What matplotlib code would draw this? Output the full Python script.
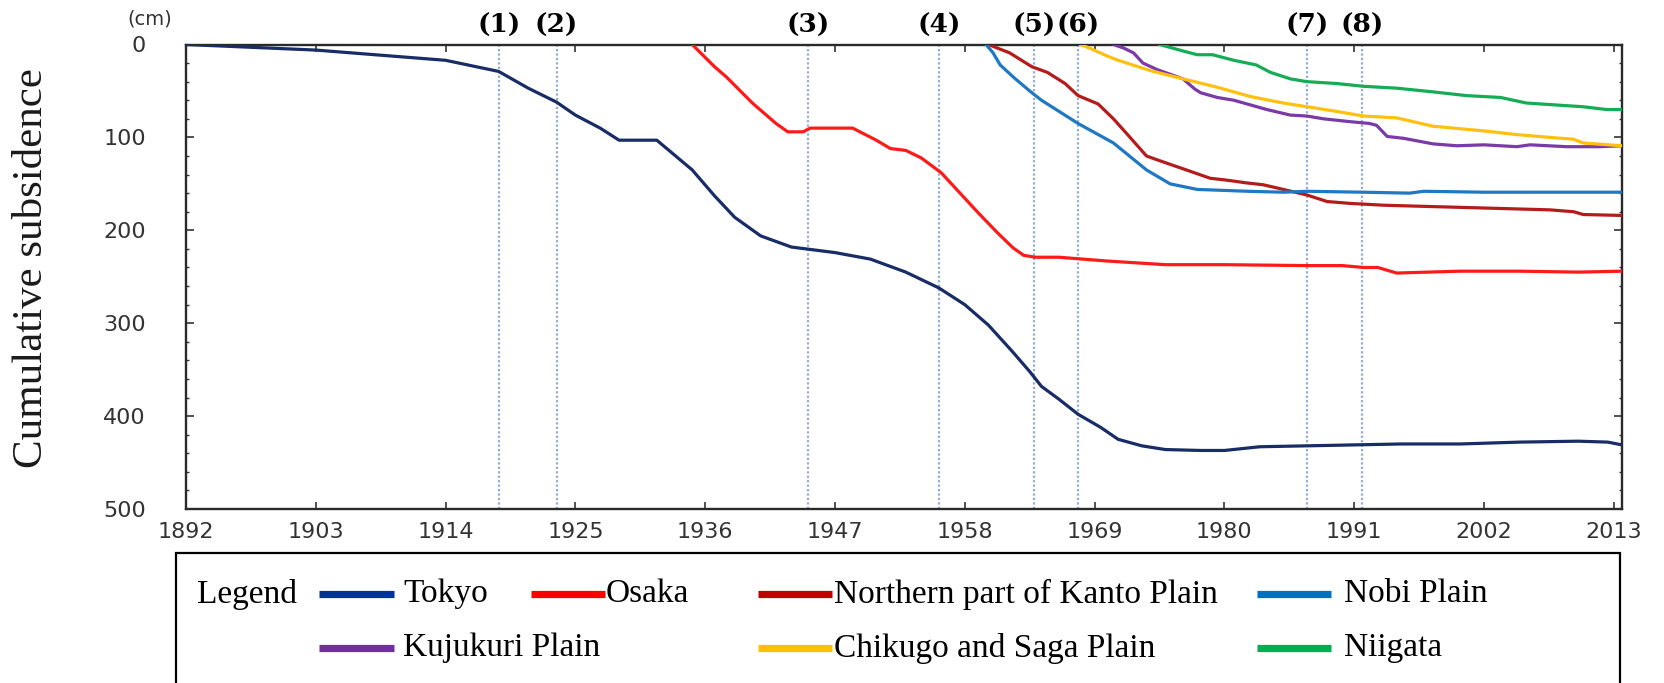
import matplotlib
matplotlib.use("Agg")
import matplotlib.pyplot as plt
from matplotlib.lines import Line2D
from matplotlib.patches import Rectangle
from matplotlib.ticker import MultipleLocator

# ---------------- data ----------------
tokyo_years = [1892, 1903, 1914, 1918.5, 1921, 1923.4, 1925, 1927.1, 1928.7, 1931.9, 1934.9, 1936.8,
               1938.5, 1940.7, 1943.3, 1947, 1950, 1953, 1955.8, 1958, 1960, 1962, 1963.5, 1964.5,
               1966, 1967.6, 1969.5, 1971, 1973, 1975, 1978, 1980, 1983, 1987, 1991, 1995, 2000,
               2005, 2010, 2012.5, 2013.7]
tokyo_vals = [0, 6, 17, 29, 47, 62, 76, 90, 103, 103, 135, 163,
              186, 206, 218, 224, 231, 245, 262, 280, 302, 330, 352, 368,
              382, 398, 412, 425, 432, 436, 437, 437, 433, 432, 431, 430, 430,
              428, 427, 428, 431]

osaka_years = [1934.9, 1936.8, 1937.8, 1940, 1942, 1943, 1944.3, 1944.9, 1948.5, 1950.5, 1951.7,
               1953, 1954.3, 1956, 1957.6, 1959.2, 1960.8, 1962.1, 1963, 1964, 1966, 1970, 1975,
               1980, 1987, 1990, 1991.8, 1993, 1994.6, 2000, 2005, 2010, 2013.7]
osaka_vals = [0, 24, 35, 63, 85, 94, 94, 90, 90, 103, 112,
              114, 122, 138, 160, 182, 203, 219, 227, 229, 229, 233, 237,
              237, 238, 238, 240, 240, 246, 244, 244, 245, 244]

kanto_years = [1960, 1961.8, 1963.7, 1965, 1966.5, 1967.6, 1969.3, 1970.6, 1971.8, 1973.4, 1974.5,
               1977, 1978.8, 1980.2, 1981.9, 1983.3, 1985, 1987, 1988.7, 1990.6, 1993.5, 1996.3,
               2002, 2007.6, 2009.6, 2010.4, 2013.7]
kanto_vals = [0, 9, 24, 30, 42, 55, 64, 80, 97, 120, 125,
              136, 144, 146, 149, 151, 156, 162, 169, 171, 173, 174,
              176, 178, 180, 183, 184]

nobi_years = [1959.8, 1960.4, 1961, 1962.2, 1963.5, 1964.5, 1967.6, 1970.6, 1973.4, 1975.4, 1977.7,
              1982, 1985, 1987, 1991.8, 1995.7, 1996.9, 2002, 2007.6, 2013.7]
nobi_vals = [0, 9, 22, 36, 50, 60, 85, 106, 135, 150, 156,
             158, 159, 158, 159, 160, 158, 159, 159, 159]

kujukuri_years = [1970.6, 1971.5, 1972.3, 1973.1, 1974.3, 1976.5, 1977.5, 1978, 1979.4, 1980.8,
                  1982.2, 1983.6, 1985.6, 1987, 1988.4, 1990.6, 1992.3, 1992.9, 1993.8, 1995.2,
                  1997.7, 1999.7, 2002, 2004.8, 2005.9, 2009, 2011.8, 2013.7]
kujukuri_vals = [0, 4, 9, 20, 27, 37, 48, 52, 57, 60,
                 65, 70, 76, 77, 80, 83, 85, 87, 99, 101,
                 107, 109, 108, 110, 108, 110, 110, 109]

chikugo_years = [1967.8, 1968.6, 1970, 1971, 1973.7, 1976.5, 1979.4, 1982.2, 1985, 1987, 1989.5,
                 1991.8, 1994.6, 1997.7, 2002, 2004.8, 2007.6, 2009.6, 2010.4, 2013.7]
chikugo_vals = [0, 4, 12, 17, 28, 37, 46, 56, 63, 67, 72,
                77, 79, 88, 93, 97, 100, 102, 106, 109]

niigata_years = [1974.5, 1976.5, 1977.7, 1979, 1980.8, 1982.7, 1983.9, 1985.6, 1987, 1989.5, 1991.8,
                 1994.6, 1997.7, 2000.5, 2003.4, 2004.5, 2005.6, 2010.4, 2012.4, 2013.7]
niigata_vals = [0, 7, 11, 11, 17, 22, 30, 37, 40, 42, 45,
                47, 51, 55, 57, 60, 63, 67, 70, 70]

event_labels = ["(1)", "(2)", "(3)", "(4)", "(5)", "(6)", "(7)", "(8)"]
event_years = [1918.5, 1923.4, 1944.7, 1955.8, 1963.9, 1967.6, 1987.0, 1991.7]

x_ticks = [1892, 1903, 1914, 1925, 1936, 1947, 1958, 1969, 1980, 1991, 2002, 2013]
y_ticks = [0, 100, 200, 300, 400, 500]

series_names = ["Tokyo", "Osaka", "Northern part of Kanto Plain", "Nobi Plain",
                "Kujukuri Plain", "Chikugo and Saga Plain", "Niigata"]
line_colors = ["#182c66", "#ff1a1a", "#b41c1c", "#1f78c4", "#7a3aa8", "#ffc010", "#14ad55"]
legend_colors = ["#003399", "#ff0000", "#c00000", "#0070c0", "#7030a0", "#ffc000", "#00b050"]

# ---------------- figure ----------------
W, H = 1664, 683
fig = plt.figure(figsize=(W / 100, H / 100), dpi=100)

def fx(x):
    return x / W

def fy(y):
    return 1 - y / H

ax = fig.add_axes([fx(186), fy(509), (1622 - 186) / W, (509 - 44.5) / H])

# event lines
for yr in event_years:
    ax.axvline(yr, color="#93acd6", lw=1.6, ls=(0, (1, 1)), zorder=1)

series = [(tokyo_years, tokyo_vals), (osaka_years, osaka_vals), (kanto_years, kanto_vals),
          (nobi_years, nobi_vals), (kujukuri_years, kujukuri_vals),
          (chikugo_years, chikugo_vals), (niigata_years, niigata_vals)]
for (xs, ys), c in zip(series, line_colors):
    ax.plot(xs, ys, color=c, lw=2.3, zorder=3, solid_joinstyle="round")

ax.set_xlim(1892, 2013.7)
ax.set_ylim(500, 0)
ax.set_xticks(x_ticks)
ax.set_yticks(y_ticks)
ax.yaxis.set_minor_locator(MultipleLocator(20))
ax.tick_params(axis="x", which="major", direction="in", length=5, width=1.2, color="#333333",
               top=True, bottom=True, pad=9, labelsize=16, labelcolor="#333333")
ax.tick_params(axis="y", which="major", direction="in", length=6, width=1.2, color="#333333",
               left=True, right=True, pad=29, labelsize=16, labelcolor="#333333")
ax.tick_params(axis="y", which="minor", direction="in", length=2.5, width=1.0, color="#333333",
               left=True, right=True)
for lab in ax.get_xticklabels() + ax.get_yticklabels():
    lab.set_fontfamily("DejaVu Sans")
for s in ax.spines.values():
    s.set_color("#2a2a2a")
    s.set_linewidth(1.7)

# event labels
for lab, yr in zip(event_labels, event_years):
    ax.text(yr, 1.042, lab, transform=ax.get_xaxis_transform(), ha="center", va="center",
            fontsize=19, fontweight="bold", family="DejaVu Serif", color="black")

# unit label
fig.text(fx(150), fy(19), "(cm)", ha="center", va="center", fontsize=14,
         family="DejaVu Sans", color="#333333")

# y label
fig.text(fx(32), fy(268), "Cumulative subsidence", rotation=90, ha="center", va="center",
         fontsize=31, family="Liberation Serif", color="#1a1a1a")

# legend box
fig.add_artist(Rectangle((fx(176), fy(700)), fx(1620) - fx(176), fy(553) - fy(700),
                         transform=fig.transFigure, fill=False, ec="black", lw=1.6))
fig.text(fx(197), fy(594), "Legend", ha="left", va="center", fontsize=24,
         family="Liberation Serif", color="black")

legend_layout = [
    (319, 394, 403, 594),
    (531, 605, 606, 594),
    (758, 832, 834, 594),
    (1257, 1331, 1344, 594),
    (319, 394, 403, 648),
    (758, 832, 834, 648),
    (1257, 1331, 1344, 648),
]
for name, c, (x0, x1, tx, yy) in zip(series_names, legend_colors, legend_layout):
    fig.add_artist(Line2D([fx(x0), fx(x1)], [fy(yy), fy(yy)], transform=fig.transFigure,
                          color=c, lw=5.2, solid_capstyle="butt"))
    fig.text(fx(tx), fy(yy), name, ha="left", va="center", fontsize=24,
             family="Liberation Serif", color="black")

fig.savefig("out.png", dpi=100)
